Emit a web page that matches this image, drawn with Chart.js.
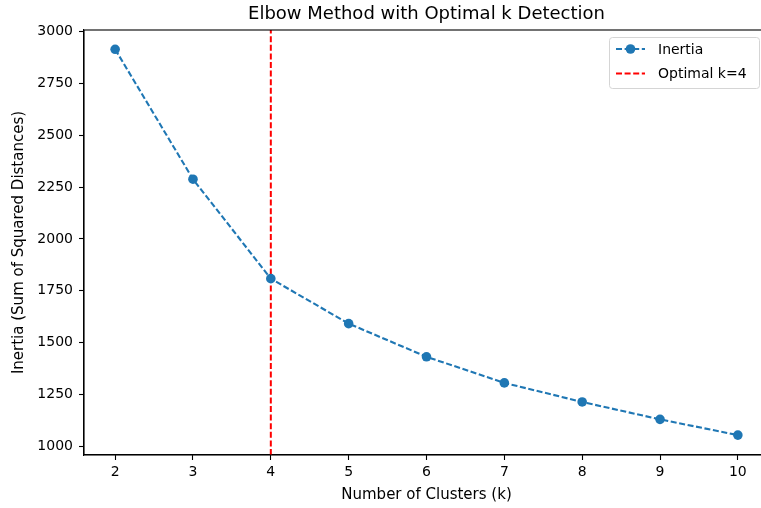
<!DOCTYPE html>
<html>
<head>
<meta charset="utf-8">
<script src="https://cdn.jsdelivr.net/npm/chart.js@4"></script>
<style>
  html, body { margin: 0; padding: 0; background: #fff; overflow: hidden; }
  #wrap { width: 780px; height: 508px; }
</style>
</head>
<body>
<div id="wrap"><canvas id="elbow" width="780" height="508"></canvas></div>
<script>
// data
const kValues = [2, 3, 4, 5, 6, 7, 8, 9, 10];
const inertia = [2915, 2288, 1808, 1591, 1431, 1305, 1213, 1129, 1053];
const optimalK = 4;
const xTicks = [2, 3, 4, 5, 6, 7, 8, 9, 10];
const yTicks = [1000, 1250, 1500, 1750, 2000, 2250, 2500, 2750, 3000];

const xMin = 1.6, xMax = 10.4;
const yMin = 957, yMax = 3008;

const blue = '#1f77b4';
const dash = [6, 2.6];

Chart.defaults.font.family = "'DejaVu Sans', sans-serif";
Chart.defaults.color = '#000';

// matplotlib-like title, frame and legend
const extras = {
  id: 'extras',
  afterDraw(chart) {
    const ctx = chart.ctx;
    const a = chart.chartArea;
    ctx.save();
    ctx.strokeStyle = '#000';
    ctx.lineWidth = 1.1;
    ctx.strokeRect(a.left, a.top, a.right - a.left, a.bottom - a.top);

    ctx.fillStyle = '#000';
    ctx.font = "18px 'DejaVu Sans'";
    ctx.textAlign = 'center';
    ctx.textBaseline = 'middle';
    ctx.fillText('Elbow Method with Optimal k Detection', (a.left + a.right) / 2, 14);

    // legend
    const bx = 609, by = 37, bw = 150, bh = 51;
    ctx.beginPath();
    ctx.roundRect(bx + 0.5, by + 0.5, bw, bh, 3);
    ctx.fillStyle = 'rgba(255,255,255,0.8)';
    ctx.fill();
    ctx.strokeStyle = '#d5d5d5';
    ctx.lineWidth = 1;
    ctx.stroke();

    chart.data.datasets.forEach((ds, i) => {
      const y = 49 + i * 24.5;
      ctx.beginPath();
      ctx.setLineDash(dash);
      ctx.strokeStyle = ds.borderColor;
      ctx.lineWidth = 2;
      ctx.moveTo(616, y);
      ctx.lineTo(645, y);
      ctx.stroke();
      ctx.setLineDash([]);
      if (ds.pointRadius > 0) {
        ctx.beginPath();
        ctx.arc(630.5, y, ds.pointRadius, 0, Math.PI * 2);
        ctx.fillStyle = ds.borderColor;
        ctx.fill();
      }
      ctx.fillStyle = '#000';
      ctx.font = "14px 'DejaVu Sans'";
      ctx.textAlign = 'left';
      ctx.fillText(ds.label, 658, y + 1);
    });
    ctx.restore();
  }
};

new Chart(document.getElementById('elbow'), {
  type: 'line',
  data: {
    datasets: [
      {
        label: 'Inertia',
        data: kValues.map((k, i) => ({ x: k, y: inertia[i] })),
        borderColor: blue,
        backgroundColor: blue,
        borderWidth: 2.1,
        borderDash: dash,
        pointRadius: 4.8,
        pointBorderWidth: 0,
        pointBackgroundColor: blue,
        tension: 0
      },
      {
        label: 'Optimal k=' + optimalK,
        data: [{ x: optimalK, y: yMin }, { x: optimalK, y: yMax }],
        borderColor: '#ff0000',
        borderWidth: 2,
        borderDash: dash,
        pointRadius: 0,
        clip: 0
      }
    ]
  },
  options: {
    responsive: false,
    animation: false,
    layout: { padding: { left: 0, top: 30, right: 11, bottom: 0 } },
    plugins: {
      legend: { display: false },
      title: { display: false },
      tooltip: { enabled: false }
    },
    scales: {
      x: {
        type: 'linear',
        min: xMin,
        max: xMax,
        afterFit(scale) { scale.height = 53; },
        afterBuildTicks(scale) { scale.ticks = xTicks.map(v => ({ value: v })); },
        grid: { drawOnChartArea: false, tickLength: 5, color: '#000', tickWidth: 1.1 },
        border: { color: '#000', width: 1.1 },
        ticks: { font: { size: 14 }, padding: 4, maxRotation: 0, callback: v => String(v) },
        title: { display: true, text: 'Number of Clusters (k)', font: { size: 15 }, padding: { top: 2, bottom: 4 } }
      },
      y: {
        type: 'linear',
        min: yMin,
        max: yMax,
        afterFit(scale) { scale.width = 84; },
        afterBuildTicks(scale) { scale.ticks = yTicks.map(v => ({ value: v })); },
        grid: { drawOnChartArea: false, tickLength: 5, color: '#000', tickWidth: 1.1 },
        border: { color: '#000', width: 1.1 },
        ticks: { font: { size: 14 }, padding: 6, callback: v => String(v) },
        title: { display: true, text: 'Inertia (Sum of Squared Distances)', font: { size: 15 }, padding: { top: 10, bottom: 2 } }
      }
    }
  },
  plugins: [extras]
});
</script>
</body>
</html>
